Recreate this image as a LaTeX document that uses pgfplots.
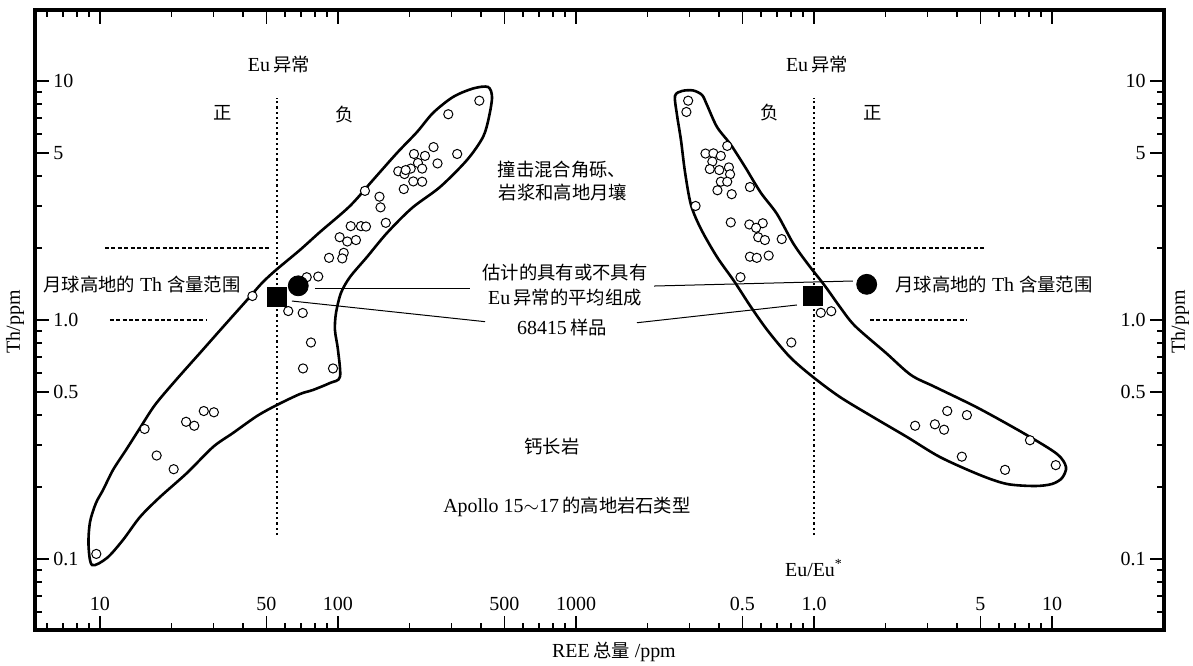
\documentclass[border=0pt]{standalone}
\usepackage{fontspec}
\setmainfont{Liberation Serif}
\newfontfamily\cjk[Scale=0.92]{Noto Sans CJK SC}
\usepackage{pgfplots}
\usepackage{pgfplotstable}
\pgfplotsset{compat=1.18}

% left panel: REE total (ppm) vs Th (ppm)
\pgfplotstableread{
ree th
392.5 8.27
290.7 7.26
316.8 4.95
252 5.29
208.6 4.95
232 4.86
261.9 4.52
216.8 4.54
225.8 4.30
202.1 4.30
179.2 4.19
190.3 4.08
192.5 4.24
207.2 3.80
225.8 3.79
189 3.53
129.8 3.47
149.4 3.28
150.9 2.96
158.8 2.55
113.1 2.47
124.9 2.47
131.1 2.46
101.6 2.22
109.4 2.13
119 2.16
105.7 1.91
104.2 1.81
91.7 1.82
82.6 1.52
73.9 1.51
43.7 1.26
61.8 1.09
71.1 1.07
77 0.805
71.3 0.627
95.3 0.627
27.3 0.416
30.1 0.411
23.0 0.375
24.9 0.361
15.4 0.350
17.3 0.271
20.4 0.2375
9.65 0.105
}\leftpts

\pgfplotstableread{
ree th
26.32 0.728
32.87 0.935
41.47 1.212
47.93 1.428
54.9 1.619
69.2 1.963
84.0 2.334
112.3 3.0
140.3 3.853
177.0 5.0
214.8 6.116
250.7 7.35
304.2 8.57
369.1 9.30
426.9 9.44
443.7 8.57
430.9 7.07
406.8 5.83
348.3 4.67
268.3 3.60
204.6 2.942
160.6 2.312
132.4 1.835
112.3 1.513
102.9 1.297
98.1 1.07
97.1 0.908
100 0.749
101.9 0.5776
92.5 0.545
78.5 0.5095
69.2 0.49
55.4 0.441
45.7 0.3966
36.2 0.3366
29.85 0.2942
23.2 0.229
17.87 0.1817
14.73 0.1499
12.49 0.1201
10.7 0.101
9.26 0.0944
8.95 0.1145
9.08 0.1428
9.62 0.1715
10.3 0.1944
11.34 0.2357
12.86 0.2858
14.73 0.3533
17.02 0.441
20.86 0.561
26.32 0.728
}\leftenv

% right panel: Eu/Eu* vs Th (ppm)
\pgfplotstableread{
eu th
0.296 8.27
0.291 7.42
0.432 5.35
0.350 4.97
0.378 4.98
0.406 4.86
0.374 4.60
0.365 4.28
0.400 4.24
0.439 4.35
0.444 4.07
0.406 3.79
0.432 3.79
0.393 3.49
0.451 3.36
0.538 3.60
0.318 3.00
0.447 2.56
0.535 2.51
0.609 2.54
0.571 2.43
0.583 2.22
0.622 2.16
0.732 2.18
0.538 1.84
0.575 1.82
0.645 1.86
0.491 1.51
1.068 1.072
1.182 1.088
0.803 0.805
3.63 0.416
4.39 0.400
2.66 0.361
3.22 0.366
3.52 0.3475
8.08 0.314
4.18 0.268
10.37 0.247
6.35 0.236
}\rightpts

\pgfplotstableread{
eu th
0.5231 4.24
0.5988 3.40
0.699 2.777
0.816 2.10
0.935 1.732
1.112 1.388
1.286 1.133
1.487 0.944
2.007 0.728
2.556 0.5885
3.225 0.5245
4.89 0.4284
7.70 0.3334
10.5 0.275
11.45 0.2426
11.02 0.2183
10.0 0.206
8.48 0.202
6.47 0.206
4.98 0.2246
3.384 0.267
2.459 0.324
1.770 0.3927
1.286 0.476
0.990 0.5775
0.7925 0.700
0.641 0.899
0.5435 1.133
0.4612 1.456
0.3914 1.835
0.3351 2.403
0.3042 3.03
0.2871 4.16
0.2761 5.66
0.2657 7.21
0.2606 8.66
0.2789 9.08
0.3101 9.13
0.3384 8.74
0.3552 7.94
0.3914 6.42
0.4479 5.40
0.5231 4.24
}\rightenv

\begin{document}
\begin{tikzpicture}
\path[use as bounding box] (-17.5bp,-18bp) rectangle (579bp,315bp);

% ---------------- left panel axis (REE) ----------------
\begin{axis}[
  scale only axis, width=564.5bp, height=310bp,
  xmode=log, ymode=log,
  xmin=5.333, xmax=295500,
  ymin=0.05045, ymax=19.82,
  axis line style={line width=1.6bp, black},
  tick align=inside,
  major tick length=7bp, minor tick length=3.75bp,
  tick style={black, line width=0.8bp},
  xtick={10,50,100,500,1000}, xticklabels={10,50,100,500,1000},
  minor xtick={6,7,8,9,20,30,40,60,70,80,90,200,300,400,600,700,800,900},
  ytick={0.1,0.5,1,5,10}, yticklabels={0.1,0.5,1.0,5,10},
  minor ytick={0.06,0.07,0.08,0.09,0.2,0.3,0.4,0.6,0.7,0.8,0.9,2,3,4,6,7,8,9},
  xtick pos=both, ytick pos=both,
  xticklabel pos=lower, yticklabel pos=left,
  ticklabel style={inner sep=0pt, font=\fontsize{10bp}{12bp}\selectfont},
  xticklabel style={anchor=base, yshift=10bp},
  yticklabel style={anchor=west, xshift=9bp},
  clip=false,
]
\addplot[black, line width=1.3bp, smooth, tension=0.5, mark=none] table[x=ree, y=th] {\leftenv};
\addplot[black, line width=1.1bp, dash pattern=on 1.1bp off 1.5bp, mark=none] coordinates {(55.3,0.126) (55.3,8.49)};
\addplot[black, line width=0.6bp, dash pattern=on 2bp off 1.2bp, mark=none] coordinates {(10.5,2.0) (51.8,2.0)};
\addplot[black, line width=0.6bp, dash pattern=on 2bp off 1.2bp, mark=none] coordinates {(11.0,1.0) (28.2,1.0)};
\addplot[only marks, mark=*, mark size=2.3bp, mark options={fill=white, draw=black, line width=0.5bp}] table[x=ree, y=th] {\leftpts};
\addplot[only marks, mark=*, mark size=5bp, black] coordinates {(68.1,1.39)};
\addplot[only marks, mark=square*, mark size=4.75bp, black] coordinates {(55.3,1.25)};

% leader lines
\draw[black, line width=0.5bp] (axis description cs:0.2480,0.5505) -- (axis description cs:0.3853,0.5505);
\draw[black, line width=0.5bp] (axis description cs:0.5483,0.5548) -- (axis description cs:0.7245,0.5629);
\draw[black, line width=0.5bp] (axis description cs:0.2276,0.5306) -- (axis description cs:0.3986,0.4973);
\draw[black, line width=0.5bp] (axis description cs:0.5332,0.4956) -- (axis description cs:0.6749,0.5242);

% texts
\node[inner sep=0pt] at (axis description cs:0.2161,0.9113) {Eu\,{\cjk 异常}};
\node[inner sep=0pt] at (axis description cs:0.6927,0.9113) {Eu\,{\cjk 异常}};
\node[inner sep=0pt] at (axis description cs:0.1665,0.8339) {\cjk 正};
\node[inner sep=0pt] at (axis description cs:0.2746,0.8306) {\cjk 负};
\node[inner sep=0pt] at (axis description cs:0.6510,0.8339) {\cjk 负};
\node[inner sep=0pt] at (axis description cs:0.7422,0.8339) {\cjk 正};
\node[inner sep=0pt] at (axis description cs:0.4668,0.7419) {\cjk 撞击混合角砾、};
\node[inner sep=0pt] at (axis description cs:0.4677,0.7065) {\cjk 岩浆和高地月壤};
\node[inner sep=0pt] at (axis description cs:0.4694,0.5758) {\cjk 估计的具有或不具有};
\node[inner sep=0pt] at (axis description cs:0.4694,0.5355) {Eu\,{\cjk 异常的平均组成}};
\node[inner sep=0pt] at (axis description cs:0.4668,0.4871) {68415\,{\cjk 样品}};
\node[inner sep=0pt, anchor=west] at (axis description cs:0.0071,0.5565) {{\cjk 月球高地的} Th {\cjk 含量范围}};
\node[inner sep=0pt, anchor=west] at (axis description cs:0.7617,0.5565) {{\cjk 月球高地的} Th {\cjk 含量范围}};
\node[inner sep=0pt] at (axis description cs:0.4579,0.2952) {\cjk 钙长岩};
\node[inner sep=0pt] at (axis description cs:0.4712,0.1984) {Apollo 15$\sim$17\,{\cjk 的高地岩石类型}};
\node[inner sep=0pt] at (axis description cs:0.6900,0.1000) {Eu/Eu\textsuperscript{*}};
\node[inner sep=0pt] at (axis description cs:0.5128,-0.0355) {REE\,{\cjk 总量} /ppm};
\node[inner sep=0pt, rotate=90] at (axis description cs:-0.0177,0.4968) {Th/ppm};
\node[inner sep=0pt, rotate=90] at (axis description cs:1.0142,0.4968) {Th/ppm};
\end{axis}

% ---------------- right panel axis (Eu/Eu*) ----------------
\begin{axis}[
  scale only axis, width=564.5bp, height=310bp,
  xmode=log, ymode=log,
  xmin=5.333e-4, xmax=29.55,
  ymin=0.05045, ymax=19.82,
  axis line style={line width=1.6bp, black},
  tick align=inside,
  major tick length=7bp, minor tick length=3.75bp,
  tick style={black, line width=0.8bp},
  xtick={0.5,1,5,10}, xticklabels={0.5,1.0,5,10},
  minor xtick={0.2,0.3,0.4,0.6,0.7,0.8,0.9,2,3,4,6,7,8,9},
  ytick={0.1,0.5,1,5,10}, yticklabels={0.1,0.5,1.0,5,10},
  minor ytick={0.06,0.07,0.08,0.09,0.2,0.3,0.4,0.6,0.7,0.8,0.9,2,3,4,6,7,8,9},
  xtick pos=both, ytick pos=both,
  xticklabel pos=lower, yticklabel pos=right,
  ticklabel style={inner sep=0pt, font=\fontsize{10bp}{12bp}\selectfont},
  xticklabel style={anchor=base, yshift=10bp},
  yticklabel style={anchor=east, xshift=-9bp},
  clip=false,
]
\addplot[black, line width=1.3bp, smooth, tension=0.5, mark=none] table[x=eu, y=th] {\rightenv};
\addplot[black, line width=1.1bp, dash pattern=on 1.1bp off 1.5bp, mark=none] coordinates {(1.0,0.126) (1.0,8.49)};
\addplot[black, line width=0.6bp, dash pattern=on 2bp off 1.2bp, mark=none] coordinates {(1.06,2.0) (5.23,2.0)};
\addplot[black, line width=0.6bp, dash pattern=on 2bp off 1.2bp, mark=none] coordinates {(1.72,1.0) (4.39,1.0)};
\addplot[only marks, mark=*, mark size=2.3bp, mark options={fill=white, draw=black, line width=0.5bp}] table[x=eu, y=th] {\rightpts};
\addplot[only marks, mark=*, mark size=5bp, black] coordinates {(1.665,1.41)};
\addplot[only marks, mark=square*, mark size=4.75bp, black] coordinates {(0.993,1.26)};
\end{axis}
\end{tikzpicture}
\end{document}
